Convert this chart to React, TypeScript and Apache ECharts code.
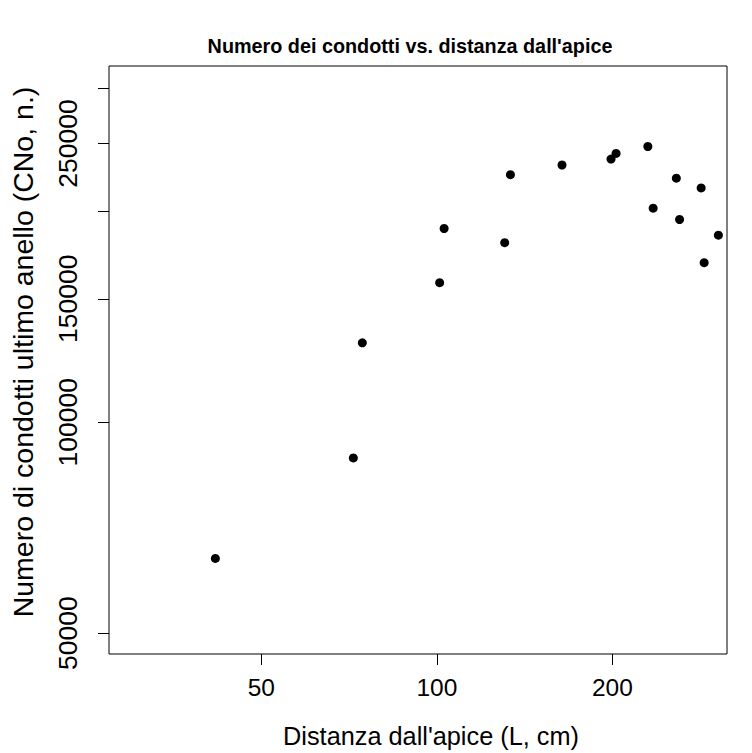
import React, { useEffect, useRef } from "react";
import * as echarts from "echarts";

// Distanza dall'apice (L, cm) and numero di condotti (CNo, n.)
const distanza = [41.7, 71.9, 74.5, 101.1, 102.9, 130.7, 133.7, 163.9, 198.9, 202.9, 230.0, 257.4, 234.9, 260.7, 283.9, 287.3, 303.9];
const condotti = [63900, 88900, 129800, 158200, 189000, 180400, 225600, 232900, 237500, 241900, 247500, 223000, 202100, 194700, 216000, 168900, 184900];

const xTicks = [50, 100, 200];
const yTicks = [50000, 100000, 150000, 200000, 250000, 300000];
const yLabels = [50000, 100000, 150000, 250000];

const titleText = "Numero dei condotti vs. distanza dall'apice";
const xName = "Distanza dall'apice (L, cm)";
const yName = "Numero di condotti ultimo anello (CNo, n.)";

const FONT = "Liberation Sans, Arial, Helvetica, sans-serif";

export default function App() {
  const ref = useRef<HTMLDivElement>(null);
  useEffect(() => {
    if (!ref.current) return;
    const chart = echarts.init(ref.current, undefined, { renderer: "svg" });
    chart.setOption({
      animation: false,
      backgroundColor: "#ffffff",
      title: {
        text: titleText,
        left: 405,
        textAlign: "center",
        top: 31,
        textStyle: { fontFamily: FONT, fontWeight: "bold", fontSize: 19.8, color: "#000" },
      },
      grid: {
        left: 105,
        right: 25,
        top: 66,
        bottom: 97,
        show: true,
        borderColor: "#000",
        borderWidth: 1,
        backgroundColor: "transparent",
      },
      xAxis: {
        type: "log",
        logBase: 10,
        min: 27.4,
        max: 314.4,
        name: xName,
        nameLocation: "middle",
        nameGap: 69,
        nameTextStyle: { fontFamily: FONT, fontSize: 25.3, color: "#000", padding: [0, 0, 0, 26] },
        axisLine: { show: false },
        axisTick: { show: true, inside: false, length: 11, customValues: xTicks, lineStyle: { color: "#000", width: 1 } },
        axisLabel: {
          customValues: xTicks,
          fontFamily: FONT,
          fontSize: 24.5,
          color: "#000",
          margin: 21,
          formatter: (v: number) => String(Math.round(v)),
        },
        splitLine: { show: false },
        minorTick: { show: false },
        minorSplitLine: { show: false },
      },
      yAxis: {
        type: "log",
        logBase: 10,
        min: 46670,
        max: 322460,
        name: yName,
        nameLocation: "middle",
        nameGap: 72,
        nameTextStyle: { fontFamily: FONT, fontSize: 28.5, color: "#000", padding: [0, 0, 0, 16] },
        axisLine: { show: false },
        axisTick: { show: true, inside: false, length: 11, customValues: yTicks, lineStyle: { color: "#000", width: 1 } },
        axisLabel: {
          customValues: yLabels,
          rotate: 90,
          fontFamily: FONT,
          fontSize: 26.5,
          color: "#000",
          margin: 28,
          formatter: (v: number) => String(Math.round(v)),
        },
        splitLine: { show: false },
        minorTick: { show: false },
        minorSplitLine: { show: false },
      },
      series: [
        {
          type: "scatter",
          data: distanza.map((d, i) => [d, condotti[i]]),
          symbol: "circle",
          symbolSize: 9,
          itemStyle: { color: "#000", opacity: 1 },
        },
      ],
    });
    return () => chart.dispose();
  }, []);
  return <div ref={ref} style={{ width: 752, height: 753, position: "absolute", left: 0, top: 0 }} />;
}
